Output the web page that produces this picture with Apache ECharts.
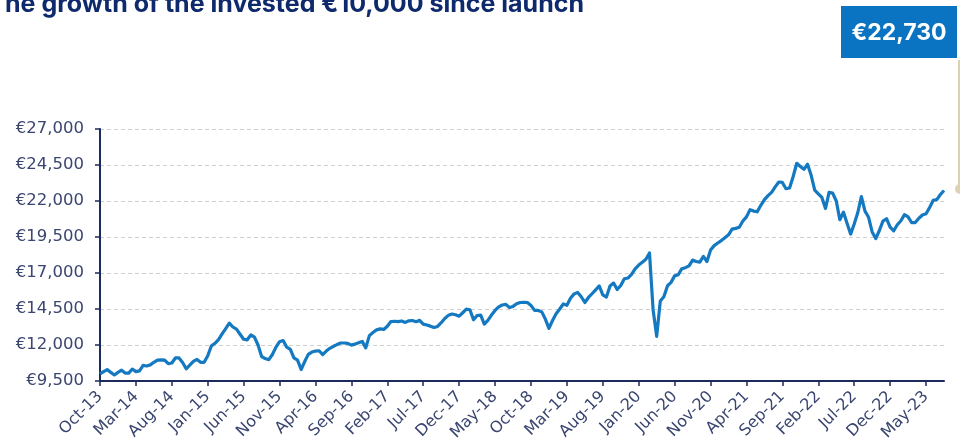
<!DOCTYPE html>
<html>
<head>
<meta charset="utf-8">
<script src="https://cdn.jsdelivr.net/npm/echarts@6/dist/echarts.min.js"></script>
<style>
  html, body { margin: 0; padding: 0; background: #ffffff; }
  #chart { width: 960px; height: 446px; }
</style>
</head>
<body>
<div id="chart"></div>
<script>
// Value of €10,000 invested at launch, sampled twice a month (Oct 2013 – Jul 2023)
const fundValues = [
  10000, 10150, 10290, 10100, 9920, 10100, 10250, 10050, 10050, 10330,
  10150, 10200, 10580, 10540, 10620, 10800, 10950, 10970, 10950, 10700,
  10750, 11100, 11100, 10780, 10350, 10600, 10860, 11000, 10800, 10800,
  11250, 11930, 12120, 12380, 12770, 13140, 13520, 13250, 13100, 12750,
  12400, 12360, 12700, 12550, 12000, 11200, 11060, 10980, 11340, 11850,
  12230, 12310, 11850, 11700, 11100, 10950, 10300, 10850, 11350, 11510,
  11580, 11600, 11330, 11580, 11770, 11910, 12030, 12140, 12140, 12110,
  11990, 12060, 12160, 12250, 11800, 12650, 12870, 13050, 13120, 13080,
  13300, 13630, 13650, 13620, 13670, 13570, 13680, 13700, 13620, 13710,
  13450, 13390, 13310, 13220, 13290, 13550, 13840, 14060, 14150, 14100,
  14000, 14240, 14490, 14450, 13750, 14050, 14080, 13450, 13710, 14080,
  14400, 14650, 14780, 14820, 14600, 14680, 14860, 14950, 14960, 14950,
  14750, 14400, 14400, 14300, 13800, 13150, 13700, 14170, 14500, 14850,
  14760, 15250, 15550, 15650, 15350, 14950, 15300, 15560, 15830, 16100,
  15480, 15330, 16100, 16300, 15850, 16130, 16600, 16650, 16900, 17290,
  17550, 17750, 17950, 18390, 14450, 12600, 15050, 15350, 16100, 16350,
  16800, 16880, 17300, 17370, 17500, 17900, 17800, 17760, 18150, 17800,
  18600, 18900, 19080, 19250, 19450, 19650, 20050, 20100, 20180, 20610,
  20900, 21400, 21300, 21250, 21700, 22100, 22370, 22600, 22980, 23320,
  23290, 22850, 22900, 23700, 24620, 24400, 24200, 24550, 23800, 22750,
  22500, 22250, 21480, 22600, 22550, 22000, 20700, 21230, 20450, 19700,
  20400, 21200, 22300, 21300, 20870, 19850, 19390, 19950, 20600, 20770,
  20180, 19930, 20350, 20630, 21050, 20900, 20500, 20500, 20800, 21030,
  21110, 21550, 22050, 22100, 22450, 22730
];

// Month labels shown every five months along the x axis
const tickLabels = [
  'Oct-13', 'Mar-14', 'Aug-14', 'Jan-15', 'Jun-15', 'Nov-15', 'Apr-16', 'Sep-16',
  'Feb-17', 'Jul-17', 'Dec-17', 'May-18', 'Oct-18', 'Mar-19', 'Aug-19', 'Jan-20',
  'Jun-20', 'Nov-20', 'Apr-21', 'Sep-21', 'Feb-22', 'Jul-22', 'Dec-22', 'May-23'
];

// Y axis range and step (euros)
const yMin = 9500;
const yMax = 27000;
const yStep = 2500;

const latestValueText = '€22,730';
const titleText = 'he growth of the invested €10,000 since launch';

// Ten half-month samples between labelled ticks
const samplesPerTick = 10;
const categories = fundValues.map((_, i) => String(i));
const isTick = (i) => i % samplesPerTick === 0;

const navy = '#1d2a5c';
const labelColor = '#3a4570';
const axisFont = '"DejaVu Sans", Verdana, sans-serif';

const chart = echarts.init(document.getElementById('chart'), null, { renderer: 'canvas' });

chart.setOption({
  animation: false,
  backgroundColor: '#ffffff',
  grid: { left: 100, right: 16, top: 129, bottom: 65, containLabel: false },
  xAxis: {
    type: 'category',
    data: categories,
    boundaryGap: false,
    axisLine: { show: true, lineStyle: { color: navy, width: 2 } },
    axisTick: {
      show: true,
      interval: (i) => isTick(i),
      length: 5,
      lineStyle: { color: navy, width: 1.5 }
    },
    axisLabel: {
      interval: (i) => isTick(i),
      rotate: 45,
      margin: 13,
      color: labelColor,
      fontFamily: axisFont,
      fontSize: 16,
      formatter: (v) => tickLabels[Number(v) / samplesPerTick] || ''
    },
    splitLine: { show: false }
  },
  yAxis: {
    type: 'value',
    min: yMin,
    max: yMax,
    interval: yStep,
    axisLine: { show: true, lineStyle: { color: navy, width: 2 } },
    axisTick: { show: true, length: 5, lineStyle: { color: navy, width: 1.5 } },
    axisLabel: {
      margin: 16,
      color: labelColor,
      fontFamily: axisFont,
      fontSize: 16.5,
      formatter: (v) => '€' + v.toLocaleString('en-US')
    },
    splitLine: { show: true, lineStyle: { color: '#d0d0d0', type: [4, 3], width: 1 } }
  },
  series: [{
    type: 'line',
    data: fundValues,
    showSymbol: false,
    smooth: false,
    lineStyle: { color: '#1479c1', width: 3.2, join: 'round' },
    z: 3
  }],
  graphic: [
    {
      type: 'text',
      left: 5,
      top: -8,
      style: {
        text: titleText,
        fill: '#0f2a6c',
        font: 'bold 25px Inter, "Liberation Sans", Arial, sans-serif'
      }
    },
    {
      type: 'rect',
      shape: { x: 841, y: 6, width: 116, height: 52 },
      style: { fill: '#0b74c2' }
    },
    {
      type: 'text',
      x: 899, y: 33,
      style: {
        text: latestValueText,
        fill: '#ffffff',
        font: 'bold 23px Inter, "Liberation Sans", Arial, sans-serif',
        textAlign: 'center',
        textVerticalAlign: 'middle'
      }
    },
    {
      type: 'line',
      shape: { x1: 959, y1: 60, x2: 959, y2: 189 },
      style: { stroke: '#dcd2b2', lineWidth: 2 }
    },
    {
      type: 'circle',
      shape: { cx: 960, cy: 189, r: 5 },
      style: { fill: '#dcd2b2' }
    }
  ]
});
</script>
</body>
</html>
